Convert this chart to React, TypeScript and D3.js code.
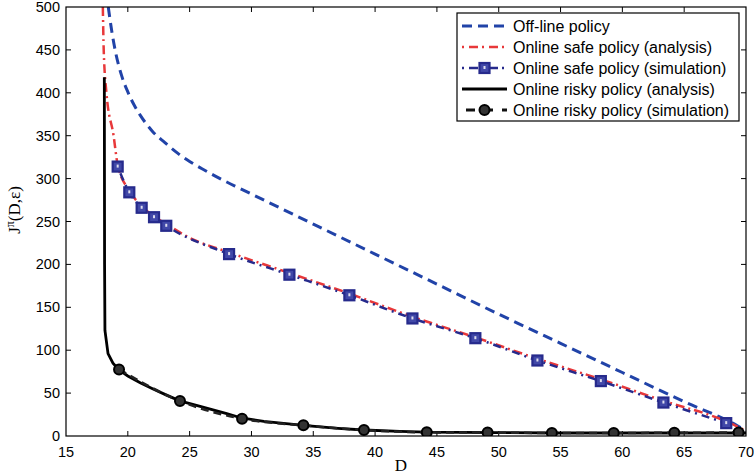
import React from "react";
import * as d3 from "d3";

const xTicks = [15, 20, 25, 30, 35, 40, 45, 50, 55, 60, 65, 70];
const yTicks = [0, 50, 100, 150, 200, 250, 300, 350, 400, 450, 500];

const offlineD = [18.42, 18.7, 19.0, 19.5, 20.0, 20.5, 21, 22, 23, 24, 25, 26, 27, 28, 29, 30, 35, 40, 45, 50, 55, 60, 65, 69.3, 70];
const offlineJ = [500, 472, 448, 420, 401, 386, 374, 355, 342, 330, 320, 311.5, 303.5, 296, 289, 282, 247, 212, 177, 142, 108, 74, 40, 12, 6];

const safeAnalysisD = [17.98, 18.05, 18.27, 18.85, 19.18, 20.12, 21.12, 22.12, 23.11, 25, 28.19, 33.07, 37.92, 43.02, 48.11, 53.13, 58.26, 63.32, 68.4, 70];
const safeAnalysisJ = [500, 450, 400, 350, 316, 286, 268, 256, 247, 231, 214, 190, 166, 139, 115, 90, 66, 41, 17, 6];

const safeSimD = [19.18, 20.12, 21.12, 22.12, 23.11, 28.19, 33.07, 37.92, 43.02, 48.11, 53.13, 58.26, 63.32, 68.4];
const safeSimJ = [314, 284, 266, 255, 245, 212, 188, 164, 137, 114, 88, 64, 39, 15];

const riskyAnalysisD = [18.1, 18.12, 18.15, 18.4, 18.8, 19.3, 20, 21, 22, 23, 24.2, 26, 28, 29.2, 31, 34.2, 37, 39.1, 42, 44.2, 50, 55, 60, 65, 70];
const riskyAnalysisJ = [418, 200, 123, 96, 85, 77, 70, 62, 55, 48.5, 41, 34, 26, 21, 17, 12.4, 9, 7, 5.5, 4.5, 4, 3.5, 3.5, 3.5, 3.5];

const riskySimD = [19.29, 24.22, 29.24, 34.2, 39.1, 44.18, 49.1, 54.3, 59.3, 64.2, 69.4];
const riskySimJ = [77.6, 40.7, 20.1, 12.4, 7, 4.3, 4, 3.5, 3.5, 3.8, 4];

const legendLabels = [
  "Off-line policy",
  "Online safe policy (analysis)",
  "Online safe policy (simulation)",
  "Online risky policy (analysis)",
  "Online risky policy (simulation)",
];

const W = 754, H = 476;
const L = 66, R = 746, T = 7, B = 436;

const BLUE = "#2143a8";
const RED = "#e8383a";
const NAVY = "#262a8c";

export default function App() {
  const x = d3.scaleLinear().domain([15, 70]).range([L, R]);
  const y = d3.scaleLinear().domain([0, 500]).range([B, T]);
  const pts = (ds: number[], js: number[]) => ds.map((d, i) => [d, js[i]] as [number, number]);
  const smooth = d3.line<[number, number]>().x(d => x(d[0])).y(d => y(d[1])).curve(d3.curveMonotoneX);
  const lin = d3.line<[number, number]>().x(d => x(d[0])).y(d => y(d[1]));

  const sans = "'Liberation Sans', Arial, sans-serif";
  const serif = "'Liberation Serif', 'Times New Roman', serif";

  const legX = 457, legY = 13, legW = 282, legH = 108;
  const rowY = (i: number) => 26 + i * 21;

  const square = (cx: number, cy: number, k: string) => (
    <g key={k}>
      <rect x={cx - 5} y={cy - 5} width={10} height={10} fill="#4148a8" stroke={NAVY} strokeWidth={2.2} />
      <rect x={cx - 1} y={cy - 2} width={2} height={3} fill="#dde" />
    </g>
  );
  const circle = (cx: number, cy: number, k: string) => (
    <circle key={k} cx={cx} cy={cy} r={5} fill="#333" stroke="#000" strokeWidth={2} />
  );

  return (
    <div style={{ position: "fixed", left: 0, top: 0 }}>
      <svg width={W} height={H} style={{ display: "block", background: "#fff" }}>
        <defs>
          <clipPath id="plotclip">
            <rect x={L} y={T} width={R - L} height={B - T} />
          </clipPath>
        </defs>
        <rect x={0} y={0} width={W} height={H} fill="#fff" />
        {xTicks.slice(1, -1).map(t => (
          <g key={"xt" + t}>
            <line x1={x(t)} x2={x(t)} y1={B} y2={B - 5} stroke="#000" strokeWidth={1} />
            <line x1={x(t)} x2={x(t)} y1={T} y2={T + 5} stroke="#000" strokeWidth={1} />
          </g>
        ))}
        {yTicks.slice(1, -1).map(t => (
          <g key={"yt" + t}>
            <line x1={L} x2={L + 5} y1={y(t)} y2={y(t)} stroke="#000" strokeWidth={1} />
            <line x1={R} x2={R - 5} y1={y(t)} y2={y(t)} stroke="#000" strokeWidth={1} />
          </g>
        ))}
        {xTicks.map(t => (
          <text key={"xl" + t} x={x(t)} y={457} textAnchor="middle" fontFamily={sans} fontSize={14.5} fill="#000">{t}</text>
        ))}
        {yTicks.map(t => (
          <text key={"yl" + t} x={60} y={y(t) + 5} textAnchor="end" fontFamily={sans} fontSize={14.5} fill="#000">{t}</text>
        ))}
        <text x={401} y={471} textAnchor="middle" fontFamily={serif} fontSize={17} fill="#000">D</text>
        <text transform="translate(20,210) rotate(-90)" textAnchor="middle" fontFamily={serif} fontSize={17} fill="#000">
          J<tspan dy="-6" fontSize={12}>π</tspan><tspan dy="6">(D,ε)</tspan>
        </text>

        <g clipPath="url(#plotclip)">
          <path d={smooth(pts(offlineD, offlineJ)) || ""} fill="none" stroke={BLUE} strokeWidth={3} strokeDasharray="10,6" />
          <path d={smooth(pts(safeAnalysisD, safeAnalysisJ)) || ""} fill="none" stroke={RED} strokeWidth={2.5} strokeDasharray="9,4,2,4" />
          <path d={smooth(pts(safeSimD, safeSimJ)) || ""} fill="none" stroke={NAVY} strokeWidth={2.5} strokeDasharray="2,5,8,5" />
          <path d={lin(pts(riskyAnalysisD, riskyAnalysisJ)) || ""} fill="none" stroke="#000" strokeWidth={2.8} />
          <path d={smooth(pts(riskySimD, riskySimJ)) || ""} fill="none" stroke="#222" strokeWidth={2.5} strokeDasharray="8,5" />
          {safeSimD.map((d, i) => square(x(d), y(safeSimJ[i]), "sq" + i))}
          {riskySimD.map((d, i) => circle(x(d), y(riskySimJ[i]), "ci" + i))}
        </g>

        <rect x={L} y={T} width={R - L} height={B - T} fill="none" stroke="#000" strokeWidth={1.2} />

        <rect x={legX} y={legY} width={legW} height={legH} fill="#fff" stroke="#000" strokeWidth={1.2} />
        <line x1={462} x2={507} y1={rowY(0)} y2={rowY(0)} stroke={BLUE} strokeWidth={3} strokeDasharray="10,6" />
        <line x1={462} x2={507} y1={rowY(1)} y2={rowY(1)} stroke={RED} strokeWidth={2.5} strokeDasharray="2,5,9,4" />
        <line x1={462} x2={507} y1={rowY(2)} y2={rowY(2)} stroke={NAVY} strokeWidth={2.5} strokeDasharray="2,5,9,4" />
        {square(484.5, rowY(2), "lsq")}
        <line x1={462} x2={507} y1={rowY(3)} y2={rowY(3)} stroke="#000" strokeWidth={2.8} />
        <line x1={462} x2={507} y1={rowY(4)} y2={rowY(4)} stroke="#111" strokeWidth={2.8} strokeDasharray="9,9" strokeDashoffset={-4} />
        {circle(484.5, rowY(4), "lci")}
        {legendLabels.map((s, i) => (
          <text key={"lg" + i} x={513} y={rowY(i)} dy="0.35em" fontFamily={sans} fontSize={16} fill="#000">{s}</text>
        ))}
      </svg>
    </div>
  );
}
